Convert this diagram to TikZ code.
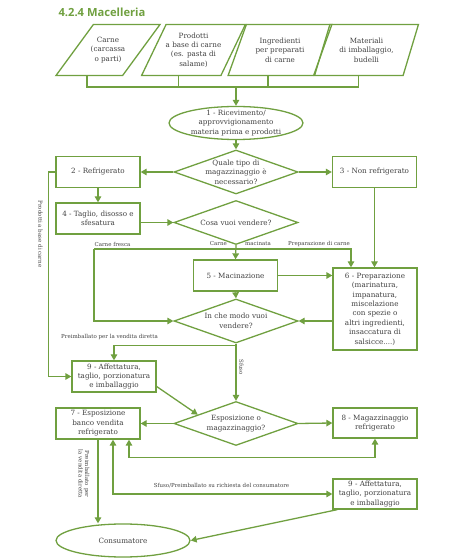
\documentclass[tikz,border=0pt]{standalone}
\usepackage{fontspec}
\setmainfont{DejaVu Serif}
\newfontfamily\titlefont{Open Sans}
\usetikzlibrary{shapes.geometric,arrows.meta}
\definecolor{macgreen}{RGB}{112,160,64}
\definecolor{mactext}{RGB}{65,65,65}
\begin{document}
\begin{tikzpicture}[x=1pt,y=1pt,
  every node/.style={text=mactext, font=\fontsize{7.2}{9.4}\selectfont, align=center},
  box/.style={draw=macgreen, line width=1.3pt, fill=white, minimum width=84pt, minimum height=31pt, inner sep=1pt},
  input/.style={draw=macgreen, line width=1.3pt, trapezium, trapezium left angle=58.7, trapezium right angle=121.3, trapezium stretches=true, minimum width=104pt, minimum height=51pt, inner xsep=-15pt, inner ysep=-8pt},
  choice/.style={draw=macgreen, line width=1.3pt, diamond, aspect=2.8, minimum width=124pt, minimum height=44pt, inner xsep=-4pt, inner ysep=-2pt},
  oval/.style={draw=macgreen, line width=1.3pt, ellipse, minimum width=134pt, minimum height=33pt, inner xsep=-2pt, inner ysep=-3pt},
  flow/.style={draw=macgreen, line width=1.3pt},
  arr/.style={flow, -{Triangle[length=6pt,width=6.5pt]}},
  arrs/.style={flow, {Triangle[length=6pt,width=6.5pt]}-{Triangle[length=6pt,width=6.5pt]}},
  tag/.style={font=\fontsize{5.5}{6.5}\selectfont, inner sep=0pt}]
\useasboundingbox (0,0) rectangle (474,560);
\node[anchor=west, text=macgreen, font=\titlefont\bfseries\fontsize{11.2}{13}\selectfont] (title) at (55,548) {4.2.4 Macelleria};
% materie in ingresso
\node[input] (carne) at (108,510) {Carne\\(carcassa\\o parti)};
\node[input] (prodotti) at (193.5,510) {Prodotti\\a base di carne\\(es. pasta di\\salame)};
\node[input] (ingred) at (280,510) {Ingredienti\\per preparati\\di carne};
\node[input] (materiali) at (366.5,510) {Materiali\\di imballaggio,\\budelli};
\coordinate (bus) at (236,473);
\draw[flow] ([xshift=-21pt]carne.south) |- (bus);
\draw[flow] ([xshift=-15pt]prodotti.south) |- (bus);
\draw[flow] ([xshift=-12pt]ingred.south) |- (bus);
\draw[flow] ([xshift=-8pt]materiali.south) |- (bus);
\node[oval] (ricev) at (236,437) {1 - Ricevimento/\\approvvigionamento\\materia prima e prodotti};
\draw[arr] (bus) -- (ricev.north);
% stoccaggio
\node[choice] (tipo) at (236,388) {Quale tipo di\\magazzinaggio è\\necessario?};
\draw[arr] (ricev.south) -- (tipo.north);
\node[box] (refrig) at (98,388) {2 - Refrigerato};
\node[box] (nonrefrig) at (374.5,388) {3 - Non refrigerato};
\draw[arr] (tipo.west) -- (refrig.east);
\draw[arr] (tipo.east) -- (nonrefrig.west);
\node[box] (taglio) at (98,341.5) {4 - Taglio, disosso e\\sfesatura};
\draw[arr] (refrig.south) -- (taglio.north);
\node[choice] (vendere) at (236,337.5) {Cosa vuoi vendere?};
\draw[arr] (taglio.east |- vendere.west) -- (vendere.west);
% lavorazione
\node[box] (macin) at (235.5,284.5) {5 - Macinazione};
\node[box, minimum height=82pt] (prep) at (375,251) {6 - Preparazione\\(marinatura,\\impanatura,\\miscelazione\\con spezie o\\altri ingredienti,\\insaccatura di\\salsicce....)};
\coordinate (fresca) at (94,311);
\draw[arr] (vendere.south) -- (macin.north);
\draw[arr] (fresca) -| ([xshift=-24pt]prep.north);
\node[tag] (freslab) at (112.5,316) {Carne fresca};
\node[tag, anchor=east] (carlab) at (227,316) {Carne};
\node[tag, anchor=west] (maclab) at (245,316) {macinata};
\node[tag] (preplab) at (319,316) {Preparazione di carne};
\draw[arr] (nonrefrig.south) -- (nonrefrig.south |- prep.north);
\draw[arr] (macin.east) -- (macin.east -| prep.west);
\node[choice] (modo) at (236,239) {In che modo vuoi\\vendere?};
\draw[arr] (fresca) |- (modo.west);
\draw[arr] (macin.south) -- (modo.north);
\draw[arr] (prep.west |- modo.east) -- (modo.east);
% vendita
\node[box] (affett) at (114,183.5) {9 - Affettatura,\\taglio, porzionatura\\e imballaggio};
\draw[arr] (modo.south) -- ++(0,-2) -| (affett.north);
\node[tag] (dirlab) at (109.5,223) {Preimballato per la vendita diretta};
\draw[arr] (refrig.west) -- ++(-7,0) |- (affett.west);
\node[tag, rotate=-90] (prodlab) at (40.5,326) {Prodotti a base di carne};
\node[choice] (espmag) at (236,136.5) {Esposizione o\\magazzinaggio?};
\draw[arr] (modo.south) -- (espmag.north);
\node[tag, rotate=-90] (sfusolab) at (241.5,193) {Sfuso};
\draw[arr] ([yshift=-10pt]affett.east) -- (espmag.167);
\node[box] (espos) at (98,136.5) {7 - Esposizione\\banco vendita\\refrigerato};
\node[box, minimum height=30pt] (magrefr) at (375,137) {8 - Magazzinaggio\\refrigerato};
\draw[arr] (espmag.west) -- (espos.east);
\draw[arr] (espmag.east) -- (magrefr.west);
\draw[arrs] ([xshift=31pt]espos.south) -- ++(0,-18) -| (magrefr.south);
\node[box, minimum height=30pt] (affett2) at (375,66) {9 - Affettatura,\\taglio, porzionatura\\e imballaggio};
\draw[arrs] ([xshift=15pt]espos.south) |- (affett2.west);
\node[tag] (richlab) at (221.5,74) {Sfuso/Preimballato su richiesta del consumatore};
\node[oval] (consum) at (123,19.5) {Consumatore};
\draw[arr] (espos.south) -- (consum.north -| espos.south);
\node[tag, rotate=-90] (preimlab) at (84,86) {Preimballato per\\la vendita diretta};
\draw[arr] ([xshift=5pt]affett2.south west) -- (consum.east);
\end{tikzpicture}
\end{document}
